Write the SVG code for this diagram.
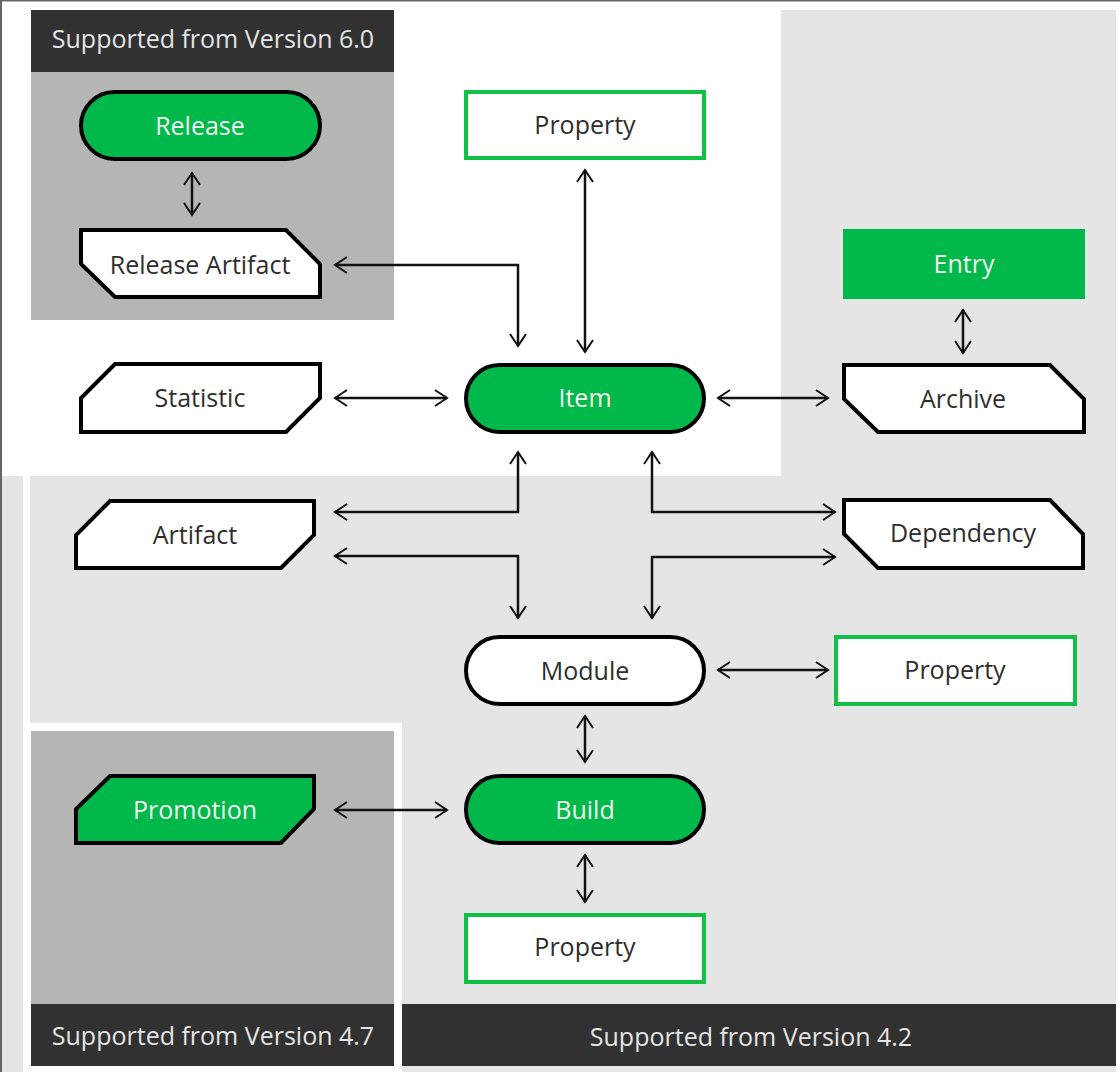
<svg xmlns="http://www.w3.org/2000/svg" width="1120" height="1072" viewBox="0 0 1120 1072">
<defs>
<style>
.lbl{font-family:"Open Sans","Noto Sans","Liberation Sans",sans-serif;font-size:25px;text-anchor:middle;fill:#2e2e2e}
.lblw{font-family:"Open Sans","Noto Sans","Liberation Sans",sans-serif;font-size:25px;text-anchor:middle;fill:#f2f2f2}
.hdr{font-family:"Open Sans","Noto Sans","Liberation Sans",sans-serif;font-size:25px;text-anchor:middle;fill:#e4e4e4}
.pill{stroke:#000;stroke-width:4}
.shape{stroke:#000;stroke-width:4;stroke-linejoin:miter}
.prop{fill:#fff;stroke:#13c047;stroke-width:4}
.conn{fill:none;stroke:#111;stroke-width:2.5;marker-start:url(#ah);marker-end:url(#ah)}
</style>
<marker id="ah" markerUnits="userSpaceOnUse" viewBox="-14 -10 16 20" refX="0" refY="0" markerWidth="16" markerHeight="20" orient="auto-start-reverse">
<path d="M-12,-8 L0,0 L-12,8" fill="none" stroke="#111" stroke-width="2"/>
</marker>
</defs>
<rect x="0" y="0" width="1120" height="1072" fill="#fff"/>
<rect x="2" y="10" width="1114" height="1062" fill="#e5e5e5"/>
<rect x="0" y="0" width="781" height="476" fill="#fff"/>
<rect x="23" y="476" width="7" height="596" fill="#fff"/>
<rect x="23" y="723" width="379" height="349" fill="#fff"/>
<rect x="0" y="0" width="1120" height="1.5" fill="#666"/>
<rect x="0" y="0" width="2" height="1072" fill="#666"/>

<g id="region-6-0">
<rect x="31" y="10" width="363" height="310" fill="#b5b5b4"/>
<rect x="31" y="10" width="363" height="62" fill="#313131"/>
<text class="hdr" x="213" y="48">Supported from Version 6.0</text>
</g>
<g id="region-4-7">
<rect x="31" y="731" width="363" height="335" fill="#b5b5b4"/>
<rect x="31" y="1004" width="363" height="62" fill="#313131"/>
<text class="hdr" x="213" y="1045">Supported from Version 4.7</text>
</g>
<g id="region-4-2">
<rect x="402" y="1004" width="714" height="62" fill="#313131"/>
<text class="hdr" x="751" y="1046">Supported from Version 4.2</text>
</g>

<g id="connectors">
<path class="conn" d="M192,173 V215"/>
<path class="conn" d="M585,170 V352"/>
<path class="conn" d="M335,265 H518 V346"/>
<path class="conn" d="M335,398 H447"/>
<path class="conn" d="M718,398 H828"/>
<path class="conn" d="M963,310 V353"/>
<path class="conn" d="M335,512 H518 V452"/>
<path class="conn" d="M335,556 H518 V618"/>
<path class="conn" d="M652,452 V512 H835"/>
<path class="conn" d="M652,618 V557 H835"/>
<path class="conn" d="M718,670 H828"/>
<path class="conn" d="M585,716 V762"/>
<path class="conn" d="M335,810 H447"/>
<path class="conn" d="M585,855 V902"/>
</g>

<g id="release">
<rect class="pill" x="81" y="92" width="239" height="67" rx="33.5" fill="#00b94a"/>
<text class="lblw" x="200" y="135">Release</text>
</g>
<g id="release-artifact">
<path class="shape" d="M81,230 H286 L320,264 V297 H115 L81,264 Z" fill="#fff"/>
<text class="lbl" x="200" y="274">Release Artifact</text>
</g>
<g id="property-top">
<rect class="prop" x="466" y="92" width="238" height="66"/>
<text class="lbl" x="585" y="134">Property</text>
</g>
<g id="entry">
<rect x="843" y="229" width="242" height="70" fill="#00b94a"/>
<text class="lblw" x="964" y="273">Entry</text>
</g>
<g id="statistic">
<path class="shape" d="M115,364 H320 V398 L286,432 H81 V398 Z" fill="#fff"/>
<text class="lbl" x="200" y="407">Statistic</text>
</g>
<g id="item">
<rect class="pill" x="466" y="365" width="238" height="67" rx="33.5" fill="#00b94a"/>
<text class="lblw" x="585" y="407">Item</text>
</g>
<g id="archive">
<path class="shape" d="M844,365 H1050 L1084,399 V432 H878 L844,399 Z" fill="#fff"/>
<text class="lbl" x="963" y="408">Archive</text>
</g>
<g id="artifact">
<path class="shape" d="M110,501 H314 V535 L281,568 H76 V535 Z" fill="#fff"/>
<text class="lbl" x="195" y="544">Artifact</text>
</g>
<g id="dependency">
<path class="shape" d="M844,500 H1050 L1083,534 V568 H878 L844,534 Z" fill="#fff"/>
<text class="lbl" x="963" y="542">Dependency</text>
</g>
<g id="module">
<rect class="pill" x="466" y="637" width="238" height="67" rx="33.5" fill="#fff"/>
<text class="lbl" x="585" y="680">Module</text>
</g>
<g id="property-right">
<rect class="prop" x="836" y="637" width="239" height="67"/>
<text class="lbl" x="955" y="679">Property</text>
</g>
<g id="promotion">
<path class="shape" d="M110,776 H314 V809 L281,843 H76 V809 Z" fill="#00b94a"/>
<text class="lblw" x="195" y="819">Promotion</text>
</g>
<g id="build">
<rect class="pill" x="466" y="776" width="238" height="67" rx="33.5" fill="#00b94a"/>
<text class="lblw" x="585" y="819">Build</text>
</g>
<g id="property-bottom">
<rect class="prop" x="466" y="915" width="238" height="67"/>
<text class="lbl" x="585" y="956">Property</text>
</g>
</svg>
